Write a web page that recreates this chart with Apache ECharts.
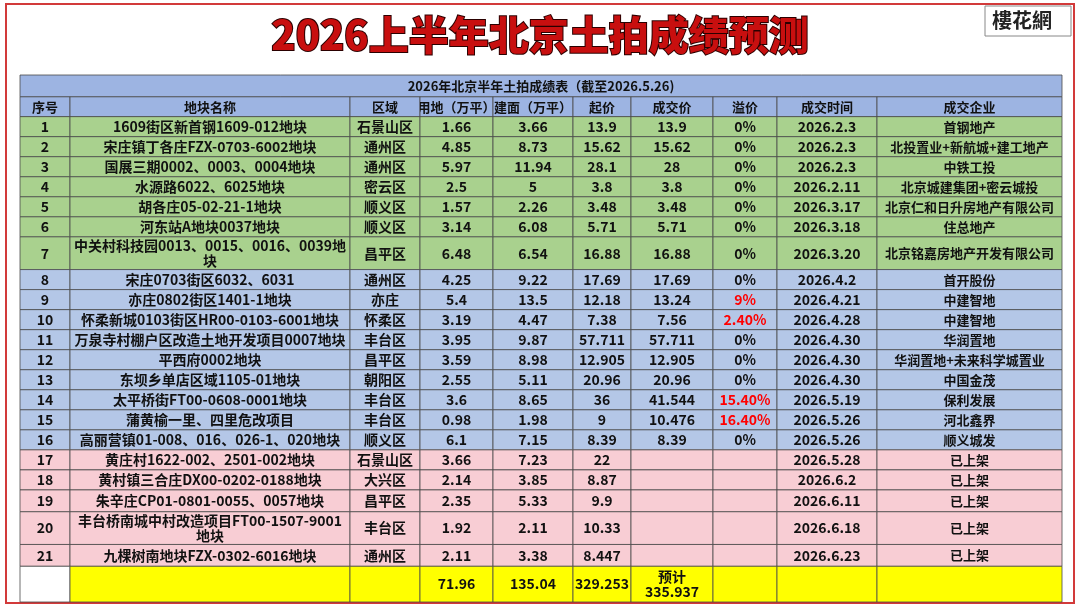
<!DOCTYPE html>
<html><head><meta charset="utf-8">
<script src="https://cdn.jsdelivr.net/npm/echarts@6/dist/echarts.min.js"></script>
<style>html,body{margin:0;padding:0;background:#fff}#c{width:1080px;height:607px}</style>
</head><body><div id="c"></div>
<script>
const tableTitle = '2026年北京半年土拍成绩表（截至2026.5.26)';
const headers = ['序号','地块名称','区域','用地（万平）','建面（万平）','起价','成交价','溢价','成交时间','成交企业'];
const idx = ['1','2','3','4','5','6','7','8','9','10','11','12','13','14','15','16','17','18','19','20','21'];
const names = ['1609街区新首钢1609-012地块','宋庄镇丁各庄FZX-0703-6002地块','国展三期0002、0003、0004地块','水源路6022、6025地块','胡各庄05-02-21-1地块','河东站A地块0037地块','中关村科技园0013、0015、0016、0039地块','宋庄0703街区6032、6031','亦庄0802街区1401-1地块','怀柔新城0103街区HR00-0103-6001地块','万泉寺村棚户区改造土地开发项目0007地块','平西府0002地块','东坝乡单店区域1105-01地块','太平桥街FT00-0608-0001地块','蒲黄榆一里、四里危改项目','高丽营镇01-008、016、026-1、020地块','黄庄村1622-002、2501-002地块','黄村镇三合庄DX00-0202-0188地块','朱辛庄CP01-0801-0055、0057地块','丰台桥南城中村改造项目FT00-1507-9001地块','九棵树南地块FZX-0302-6016地块'];
const districts = ['石景山区','通州区','通州区','密云区','顺义区','顺义区','昌平区','通州区','亦庄','怀柔区','丰台区','昌平区','朝阳区','丰台区','丰台区','顺义区','石景山区','大兴区','昌平区','丰台区','通州区'];
const landArea = ['1.66','4.85','5.97','2.5','1.57','3.14','6.48','4.25','5.4','3.19','3.95','3.59','2.55','3.6','0.98','6.1','3.66','2.14','2.35','1.92','2.11'];
const buildArea = ['3.66','8.73','11.94','5','2.26','6.08','6.54','9.22','13.5','4.47','9.87','8.98','5.11','8.65','1.98','7.15','7.23','3.85','5.33','2.11','3.38'];
const startPrice = ['13.9','15.62','28.1','3.8','3.48','5.71','16.88','17.69','12.18','7.38','57.711','12.905','20.96','36','9','8.39','22','8.87','9.9','10.33','8.447'];
const dealPrice = ['13.9','15.62','28','3.8','3.48','5.71','16.88','17.69','13.24','7.56','57.711','12.905','20.96','41.544','10.476','8.39','','','','',''];
const premium = ['0%','0%','0%','0%','0%','0%','0%','0%','9%','2.40%','0%','0%','0%','15.40%','16.40%','0%','','','','',''];
const dealDate = ['2026.2.3','2026.2.3','2026.2.3','2026.2.11','2026.3.17','2026.3.18','2026.3.20','2026.4.2','2026.4.21','2026.4.28','2026.4.30','2026.4.30','2026.4.30','2026.5.19','2026.5.26','2026.5.26','2026.5.28','2026.6.2','2026.6.11','2026.6.18','2026.6.23'];
const companies = ['首钢地产','北投置业+新航城+建工地产','中铁工投','北京城建集团+密云城投','北京仁和日升房地产有限公司','住总地产','北京铭嘉房地产开发有限公司','首开股份','中建智地','中建智地','华润置地','华润置地+未来科学城置业','中国金茂','保利发展','河北鑫界','顺义城发','已上架','已上架','已上架','已上架','已上架'];
const totals = ['', '', '', '71.96', '135.04', '329.253', '预计\n335.937', '', '', ''];

// layout
const colW = [50,280,70,73,80,58,82,64,100,185];
const rowH = [22,20].concat(idx.map((d,i)=> (i===6||i===19)?33:(i===18||i===20?22:20.2))).concat([36]);
const colX = [0]; colW.forEach(w=>colX.push(colX[colX.length-1]+w));
const rowY = [0]; rowH.forEach(h=>rowY.push(rowY[rowY.length-1]+h));
const W = colX[colX.length-1], H = rowY[rowY.length-1];

const cells = [];
function add(c0,c1,r,text,fill,color){cells.push([colX[c0],colX[c1],rowY[r],rowY[r+1],text,fill,color||'#111',r,c0]);}
add(0,10,0,tableTitle,'#9db4e2');
headers.forEach((h,c)=>add(c,c+1,1,h,'#9db4e2'));
idx.forEach((d,i)=>{
  const fill = i<7?'#a9d18e':(i<16?'#b4c7e7':'#f8cdd4');
  const row=[idx[i],names[i],districts[i],landArea[i],buildArea[i],startPrice[i],dealPrice[i],premium[i],dealDate[i],companies[i]];
  row.forEach((t,c)=>add(c,c+1,i+2,t,fill,(c===7&&t!=='0%')?'#ff0000':'#111'));
});
totals.forEach((t,c)=>add(c,c+1,rowH.length-1,t,c===0?'#ffffff':'#ffff00'));

const chart = echarts.init(document.getElementById('c'));
chart.setOption({
  animation:false,
  grid:{left:20,right:18,top:75,bottom:5},
  xAxis:{type:'value',min:0,max:W,show:false},
  yAxis:{type:'value',min:0,max:H,inverse:true,show:false},
  graphic:[
    {type:'rect',shape:{x:6,y:4,width:1068,height:599},style:{fill:'none',stroke:'#d23a3a',lineWidth:2}},
    {type:'text',left:'center',top:14,style:{text:'2026上半年北京土拍成绩预测',font:'900 40px "Noto Sans CJK SC"',fill:'#c80f0f',stroke:'#2a0000',lineWidth:2,shadowColor:'rgba(0,0,0,0.5)',shadowBlur:2,shadowOffsetX:2,shadowOffsetY:2},x:-40},
    {type:'rect',shape:{x:985,y:6,width:86,height:30},style:{fill:'#fff',stroke:'#888',lineWidth:1}},
    {type:'text',x:992,y:10,style:{text:'樓花網',font:'bold 20px "Noto Sans CJK SC"',fill:'#222'}}
  ],
  series:[{
    type:'custom',data:cells,
    renderItem:(p,api)=>{
      const d=cells[p.dataIndex];
      const a=api.coord([d[0],d[2]]), b=api.coord([d[1],d[3]]);
      const w=b[0]-a[0], h=b[1]-a[1];
      const isHead = d[7]<=1;
      const wrap = !isHead && d[8]===1;
      const fs = isHead?13:(d[8]===9?13:14);
      return {type:'group',children:[
        {type:'rect',shape:{x:a[0],y:a[1],width:w,height:h},style:{fill:d[5],stroke:'#4a4a4a',lineWidth:0.8}},
        {type:'text',x:a[0]+w/2,y:a[1]+h/2,clipPath:{type:'rect',shape:{x:-w/2,y:-h/2,width:w,height:h}},
          style:{text:d[4],x:0,y:0,align:'center',verticalAlign:'middle',width:wrap?w-4:undefined,overflow:wrap?'break':'none',lineHeight:15,
          font:'bold '+fs+'px "Noto Sans CJK SC"',fill:d[6]}}
      ]};
    }
  }]
});
</script></body></html>
